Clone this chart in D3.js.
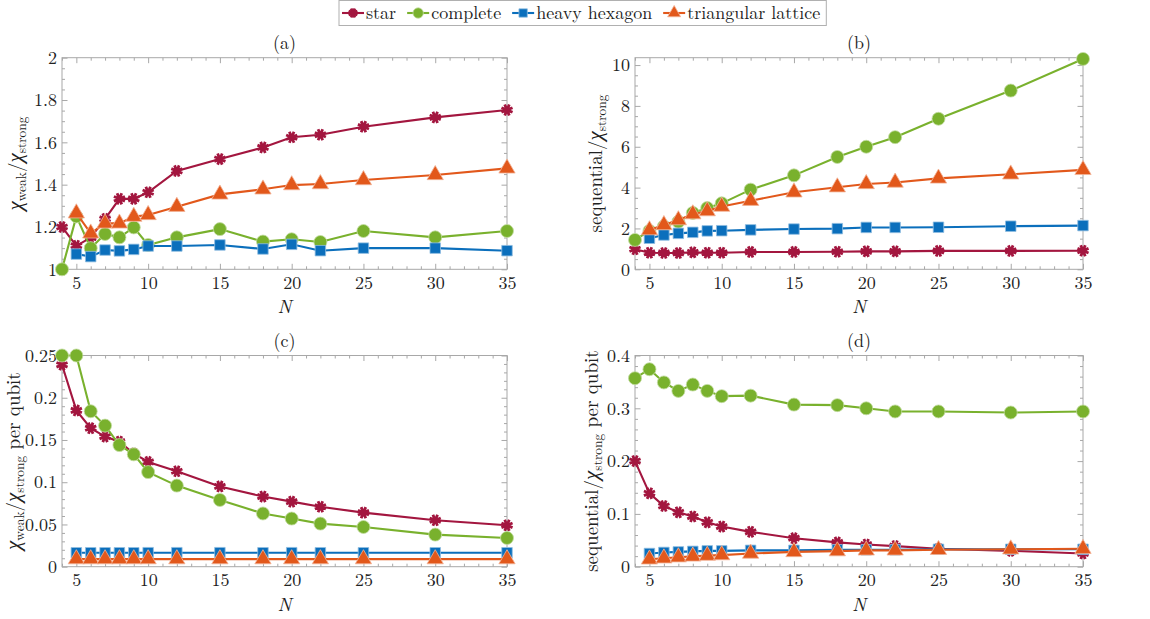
<!DOCTYPE html>
<html><head><meta charset="utf-8">
<script src="https://cdn.jsdelivr.net/npm/d3@7"></script>
<style>
html,body{margin:0;padding:0;background:#fff;}
svg{display:block;}
</style></head>
<body>
<svg id="chart" width="1150" height="619"></svg>
<script>
// ---- data ----
const Nvals = [4,5,6,7,8,9,10,12,15,18,20,22,25,30,35];
const seriesNames = ["star","complete","heavy hexagon","triangular lattice"];
const seriesColors = ["#a3163f","#79b12d","#0b6fbc","#e2581b"];
const seriesShapes = ["star","circle","square","triangle"];

// (a) chi_weak / chi_strong
const a_star     = [1.20,1.111,1.15,1.238,1.333,1.333,1.364,1.465,1.521,1.576,1.624,1.636,1.674,1.718,1.753];
const a_complete = [1.00,1.25,1.10,1.167,1.151,1.198,1.115,1.151,1.19,1.131,1.142,1.129,1.181,1.151,1.181];
const a_hex      = [null,1.072,1.06,1.091,1.087,1.094,1.11,1.11,1.115,1.096,1.118,1.088,1.10,1.10,1.088];
const a_tri      = [null,1.265,1.17,1.217,1.217,1.249,1.257,1.296,1.354,1.378,1.398,1.403,1.422,1.446,1.477];

// (b) sequential / chi_strong
const b_star     = [0.98,0.81,0.80,0.80,0.83,0.81,0.81,0.85,0.85,0.86,0.88,0.88,0.90,0.90,0.91];
const b_complete = [1.44,1.88,2.10,2.33,2.76,3.00,3.23,3.90,4.60,5.50,6.00,6.47,7.37,8.75,10.30];
const b_hex      = [null,1.52,1.68,1.76,1.81,1.88,1.89,1.93,1.97,1.99,2.05,2.05,2.06,2.11,2.14];
const b_tri      = [null,1.92,2.17,2.41,2.70,2.85,3.07,3.36,3.77,4.02,4.18,4.25,4.45,4.65,4.87];

// (c) chi_weak / chi_strong per qubit
const c_star     = [0.239,0.185,0.164,0.154,0.148,0.134,0.124,0.113,0.095,0.083,0.077,0.071,0.064,0.055,0.049];
const c_complete = [0.25,0.25,0.184,0.167,0.144,0.133,0.112,0.096,0.079,0.063,0.057,0.051,0.047,0.038,0.034];
const c_hex      = [null,0.0165,0.0165,0.0165,0.0165,0.0165,0.0166,0.0166,0.0166,0.0165,0.0166,0.0165,0.0165,0.0165,0.0165];
const c_tri      = [null,0.009,0.009,0.009,0.009,0.009,0.009,0.009,0.009,0.009,0.009,0.009,0.009,0.009,0.009];

// (d) sequential / chi_strong per qubit
const d_star     = [0.200,0.139,0.115,0.103,0.095,0.084,0.076,0.066,0.054,0.046,0.042,0.039,0.034,0.030,0.025];
const d_complete = [0.357,0.374,0.349,0.333,0.345,0.333,0.323,0.324,0.307,0.306,0.300,0.294,0.294,0.292,0.294];
const d_hex      = [null,0.025,0.027,0.028,0.029,0.030,0.030,0.031,0.031,0.032,0.032,0.032,0.033,0.033,0.033];
const d_tri      = [null,0.014,0.016,0.018,0.0195,0.021,0.022,0.025,0.028,0.0295,0.031,0.031,0.032,0.033,0.034];

const xTickVals = [5,10,15,20,25,30,35];
const a_yTicks = [1,1.2,1.4,1.6,1.8,2];
const b_yTicks = [0,2,4,6,8,10];
const c_yTicks = [0,0.05,0.1,0.15,0.2,0.25];
const d_yTicks = [0,0.1,0.2,0.3,0.4];

// ---- drawing ----
const FONT = "Latin Modern Roman";
const GREEK = "Liberation Serif";
const TXT = "#222";
const svg = d3.select("#chart");
const frameColor = "#a8a8a8";

function markerPath(shape, s){
  if(shape==="circle") return d3.symbol(d3.symbolCircle, Math.PI*s*s/4)();
  if(shape==="square") return d3.symbol(d3.symbolSquare, s*s)();
  if(shape==="triangle") return d3.symbol(d3.symbolTriangle, s*s*0.45)();
  const r=s/2; let p="";
  for(let k=0;k<4;k++){const a=k*Math.PI/4+Math.PI/8; const dx=r*Math.cos(a), dy=r*Math.sin(a);
    p+=`M${-dx},${-dy}L${dx},${dy}`;}
  return p;
}
function drawMarker(g, shape, color, x, y, s){
  const p = g.append("path").attr("d", markerPath(shape,s)).attr("transform",`translate(${x},${y})`);
  if(shape==="star") p.attr("fill","none").attr("stroke",color).attr("stroke-width",2.8).attr("stroke-linecap","butt");
  else p.attr("fill",color).attr("stroke",d3.interpolateRgb(color,"#fff")(0.55)).attr("stroke-width",0.8);
}
const markerSizes = {star:12, circle:13, square:10.5, triangle:16};

function ylabel(g, x, y, parts){
  const t = g.append("text").attr("transform",`translate(${x},${y}) rotate(-90)`)
    .attr("text-anchor","middle").attr("font-family",FONT).attr("font-size",19).attr("fill",TXT);
  parts.forEach(p=>{
    const ts=t.append("tspan").text(p.t);
    if(p.sub){ts.attr("font-size",13.5).attr("dy", p.dy);}
    else if(p.dy) ts.attr("dy",p.dy);
    if(p.greek) ts.attr("font-family",GREEK).attr("font-style","italic").attr("font-size",21);
  });
}

function panel(cfg){
  const g = svg.append("g");
  const x = d3.scaleLinear().domain([4,35]).range([cfg.left,cfg.right]);
  const y = d3.scaleLinear().domain(cfg.yDomain).range([cfg.bottom,cfg.top]);
  const xMinor = d3.range(4,36,1).filter(v=>!xTickVals.includes(v));
  const yMinor = d3.range(cfg.yDomain[0], cfg.yDomain[1]+1e-9, cfg.yMinorStep)
      .filter(v=>!cfg.yTicks.some(t=>Math.abs(t-v)<1e-9));
  const H = cfg.bottom-cfg.top, W = cfg.right-cfg.left;
  const axes = [
    [d3.axisBottom(x).tickValues(xTickVals).tickSize(-5.5).tickPadding(7).tickFormat(d3.format("d")), `translate(0,${cfg.bottom})`, true],
    [d3.axisBottom(x).tickValues(xMinor).tickSize(-3).tickFormat(""), `translate(0,${cfg.bottom})`, false],
    [d3.axisTop(x).tickValues(xTickVals).tickSize(-5.5).tickFormat(""), `translate(0,${cfg.top})`, false],
    [d3.axisTop(x).tickValues(xMinor).tickSize(-3).tickFormat(""), `translate(0,${cfg.top})`, false],
    [d3.axisLeft(y).tickValues(cfg.yTicks).tickSize(-5.5).tickPadding(5).tickFormat(cfg.yFmt), `translate(${cfg.left},0)`, true],
    [d3.axisLeft(y).tickValues(yMinor).tickSize(-3).tickFormat(""), `translate(${cfg.left},0)`, false],
    [d3.axisRight(y).tickValues(cfg.yTicks).tickSize(-5.5).tickFormat(""), `translate(${cfg.right},0)`, false],
    [d3.axisRight(y).tickValues(yMinor).tickSize(-3).tickFormat(""), `translate(${cfg.right},0)`, false],
  ];
  axes.forEach(([ax,tr,lab])=>{
    const a = g.append("g").attr("transform",tr).call(ax);
    a.attr("font-family",FONT).attr("font-size",18);
    a.select(".domain").remove();
    a.selectAll("line").attr("stroke",frameColor).attr("stroke-width",1);
    if(lab) a.selectAll("text").attr("font-family",FONT).attr("font-size",18).attr("fill",TXT);
  });
  g.append("rect").attr("x",cfg.left).attr("y",cfg.top).attr("width",W).attr("height",H)
    .attr("fill","none").attr("stroke",frameColor).attr("stroke-width",1);

  cfg.series.forEach((vals,i)=>{
    const pts = Nvals.map((n,k)=>[n,vals[k]]).filter(d=>d[1]!==null);
    const col = seriesColors[i];
    g.append("path").datum(pts)
      .attr("d", d3.line().x(d=>x(d[0])).y(d=>y(d[1])))
      .attr("fill","none").attr("stroke",col).attr("stroke-width",2.1);
    pts.forEach(d=>drawMarker(g, seriesShapes[i], col, x(d[0]), y(d[1]), markerSizes[seriesShapes[i]]));
  });

  g.append("text").attr("x",(cfg.left+cfg.right)/2).attr("y",cfg.top-9).attr("text-anchor","middle")
    .attr("font-family",FONT).attr("font-size",18).attr("fill",TXT).text(cfg.title);
  g.append("text").attr("x",(cfg.left+cfg.right)/2).attr("y",cfg.bottom+44).attr("text-anchor","middle")
    .attr("font-family",FONT).attr("font-size",19).attr("font-style","italic").attr("fill",TXT).text("N");
  ylabel(g, cfg.left-cfg.ylabOff, (cfg.top+cfg.bottom)/2, cfg.ylab);
}

const chiLab = [{t:"χ",greek:true},{t:"weak",sub:true,dy:4},{t:"/",dy:-4},{t:"χ",greek:true},{t:"strong",sub:true,dy:4}];
const chiLabPQ = [{t:"χ",greek:true},{t:"weak",sub:true,dy:4},{t:"/",dy:-4},{t:"χ",greek:true},{t:"strong",sub:true,dy:4},{t:" per qubit",dy:-4}];
const seqLab = [{t:"sequential/"},{t:"χ",greek:true},{t:"strong",sub:true,dy:4}];
const seqLabPQ = [{t:"sequential/"},{t:"χ",greek:true},{t:"strong",sub:true,dy:4},{t:" per qubit",dy:-4}];

const fmtG = v => String(+v.toFixed(4));
panel({left:62,right:507,top:57.7,bottom:269.3,yDomain:[1,2],yTicks:a_yTicks,yMinorStep:0.05,yFmt:fmtG,
  series:[a_star,a_complete,a_hex,a_tri],title:"(a)",ylab:chiLab,ylabOff:40});
panel({left:635,right:1083,top:57.7,bottom:269.3,yDomain:[0,10.36],yTicks:b_yTicks,yMinorStep:0.5,yFmt:fmtG,
  series:[b_star,b_complete,b_hex,b_tri],title:"(b)",ylab:seqLab,ylabOff:33});
panel({left:62,right:507,top:355.5,bottom:566.7,yDomain:[0,0.25],yTicks:c_yTicks,yMinorStep:0.01,yFmt:fmtG,
  series:[c_star,c_complete,c_hex,c_tri],title:"(c)",ylab:chiLabPQ,ylabOff:42});
panel({left:635,right:1083,top:355.5,bottom:566.7,yDomain:[0,0.4],yTicks:d_yTicks,yMinorStep:0.02,yFmt:fmtG,
  series:[d_star,d_complete,d_hex,d_tri],title:"(d)",ylab:seqLabPQ,ylabOff:37});

// ---- legend ----
const lg = svg.append("g");
let cx = 342;
seriesNames.forEach((name,i)=>{
  const it = lg.append("g");
  it.append("line").attr("x1",cx).attr("x2",cx+22).attr("y1",13).attr("y2",13)
    .attr("stroke",seriesColors[i]).attr("stroke-width",2.1);
  drawMarker(it, seriesShapes[i], seriesColors[i], cx+11, 13, markerSizes[seriesShapes[i]]*0.8);
  const t = it.append("text").attr("x",cx+24).attr("y",19).attr("font-family",FONT)
    .attr("font-size",18).attr("fill",TXT).text(name);
  cx += 24 + t.node().getComputedTextLength() + 11;
});
lg.insert("rect",":first-child").attr("x",339).attr("y",0.5).attr("width",cx-339-5).attr("height",25)
  .attr("fill","#fff").attr("stroke","#b0b0b0").attr("stroke-width",1);
</script>
</body></html>
